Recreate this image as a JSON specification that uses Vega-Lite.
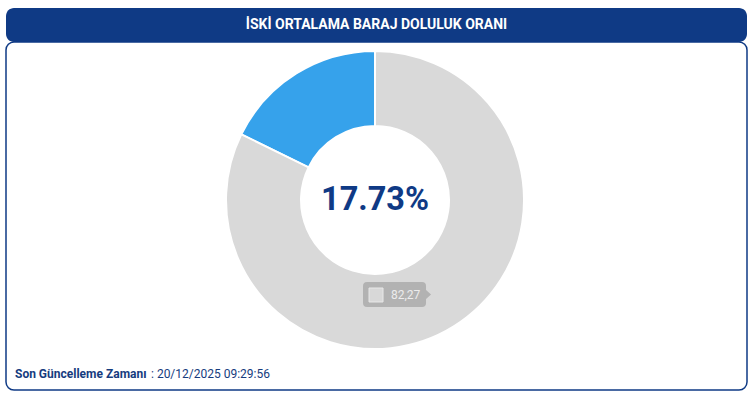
{
  "$schema": "https://vega.github.io/schema/vega-lite/v6.json",
  "background": "white",
  "padding": {"left": 5, "top": 8, "right": 5, "bottom": 9},
  "spacing": 0,
  "bounds": "flush",
  "config": {"font": "Roboto", "view": {"stroke": null}},
  "datasets": {
    "baslik": [{"baslik": "İSKİ ORTALAMA BARAJ DOLULUK ORANI"}],
    "oranlar": [
      {"durum": "Dolu", "oran": 17.73, "etiket": "17.73%"},
      {"durum": "Boş", "oran": 82.27, "etiket": "82,27"}
    ],
    "guncelleme": [{"baslik": "Son Güncelleme Zamanı", "zaman": ": 20/12/2025 09:29:56"}]
  },
  "vconcat": [
    {
      "width": 741,
      "height": 34,
      "view": {"fill": "#0f3a85", "stroke": null, "cornerRadius": 8},
      "data": {"name": "baslik"},
      "mark": {"type": "text", "color": "white", "fontSize": 14, "fontWeight": "bold", "align": "center", "baseline": "middle"},
      "encoding": {"text": {"field": "baslik"}}
    },
    {
      "width": 741,
      "height": 348,
      "view": {"fill": "white", "stroke": "#0f3a85", "strokeWidth": 1.5, "cornerRadius": 8},
      "data": {"name": "oranlar"},
      "encoding": {
        "x": {"datum": 0.498, "type": "quantitative", "scale": {"domain": [0, 1]}, "axis": null},
        "y": {"datum": 0.546, "type": "quantitative", "scale": {"domain": [0, 1]}, "axis": null}
      },
      "layer": [
        {
          "mark": {"type": "arc", "outerRadius": 149, "innerRadius": 74, "stroke": "white", "strokeWidth": 2},
          "encoding": {
            "theta": {"field": "oran", "type": "quantitative", "stack": true},
            "order": {"field": "oran", "sort": "descending"},
            "color": {"field": "durum", "type": "nominal", "scale": {"domain": ["Dolu", "Boş"], "range": ["#36a2eb", "#d9d9d9"]}, "legend": null}
          }
        },
        {
          "transform": [{"filter": "datum.durum === 'Dolu'"}],
          "mark": {"type": "text", "fontSize": 32.5, "fontWeight": "bold", "color": "#0f3a85", "align": "center", "baseline": "middle"},
          "encoding": {"text": {"field": "etiket"}}
        },
        {
          "transform": [{"filter": "datum.durum === 'Boş'"}],
          "mark": {"type": "point", "filled": true, "fill": "#b2b2b2", "opacity": 1, "strokeWidth": 0, "size": 4,
            "shape": "M-8,82 L47,82 Q51,82 51,86 L51,90 L56,94.5 L51,99 L51,103 Q51,107 47,107 L-8,107 Q-12,107 -12,103 L-12,86 Q-12,82 -8,82 Z"}
        },
        {
          "transform": [{"filter": "datum.durum === 'Boş'"}],
          "mark": {"type": "point", "filled": true, "fill": "#d8d8d8", "stroke": "#e8e8e8", "strokeWidth": 1, "opacity": 1, "size": 4,
            "shape": "M-6,88 L8,88 L8,102 L-6,102 Z"}
        },
        {
          "transform": [{"filter": "datum.durum === 'Boş'"}],
          "mark": {"type": "text", "fontSize": 12, "color": "#ececec", "align": "left", "baseline": "middle", "dx": 16, "dy": 95},
          "encoding": {"text": {"field": "etiket"}}
        },
        {
          "data": {"name": "guncelleme"},
          "mark": {"type": "text", "fontSize": 12, "fontWeight": "bold", "color": "#163c7e", "align": "left", "baseline": "alphabetic", "dx": 9, "dy": -12},
          "encoding": {
            "text": {"field": "baslik"},
            "x": {"datum": 0, "type": "quantitative"},
            "y": {"datum": 0, "type": "quantitative"}
          }
        },
        {
          "data": {"name": "guncelleme"},
          "mark": {"type": "text", "fontSize": 12, "color": "#163c7e", "align": "left", "baseline": "alphabetic", "dx": 145, "dy": -12},
          "encoding": {
            "text": {"field": "zaman"},
            "x": {"datum": 0, "type": "quantitative"},
            "y": {"datum": 0, "type": "quantitative"}
          }
        }
      ]
    }
  ]
}
